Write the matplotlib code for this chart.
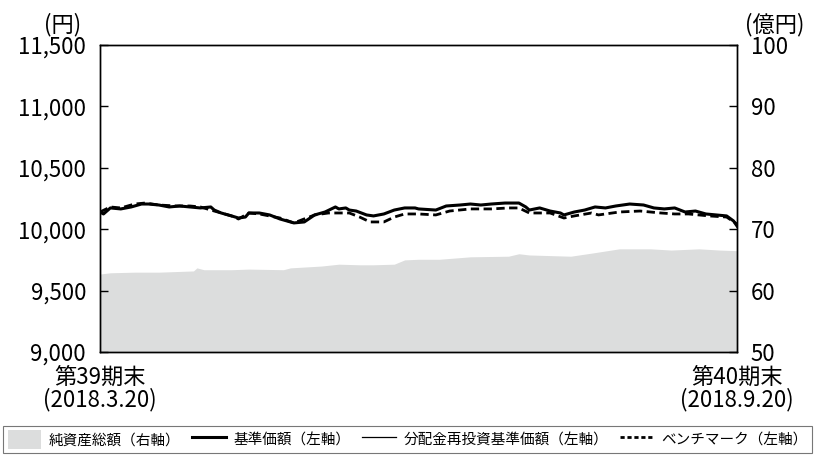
import matplotlib.pyplot as plt
from matplotlib.patches import Patch
from matplotlib.lines import Line2D

plt.rcParams['font.family'] = ['Noto Sans CJK JP', 'DejaVu Sans']

# days since 2018-03-20 (period end 2018-09-20 = day 184)
nav_days = [0, 1, 3, 6, 9, 12, 14, 17, 20, 23, 26, 29, 32, 33, 35, 38, 40, 42, 43, 46,
            49, 52, 55, 56, 59, 62, 65, 68, 69, 71, 72, 74, 77, 79, 82, 85, 88, 91, 92,
            97, 100, 104, 107, 110, 113, 117, 121, 123, 124, 127, 130, 133, 134, 137,
            140, 143, 146, 149, 153, 157, 160, 163, 166, 169, 172, 175, 178, 181, 183, 184]
nav = [10140, 10124, 10173, 10165, 10181, 10205, 10205, 10197, 10181, 10189, 10181,
       10173, 10181, 10156, 10132, 10108, 10091, 10099, 10132, 10132, 10116, 10083,
       10059, 10051, 10059, 10116, 10140, 10181, 10165, 10173, 10156, 10148, 10116,
       10108, 10124, 10156, 10173, 10173, 10165, 10156, 10189, 10197, 10205, 10197,
       10205, 10213, 10213, 10181, 10156, 10173, 10148, 10132, 10116, 10140, 10156,
       10181, 10173, 10189, 10205, 10197, 10173, 10165, 10173, 10140, 10148, 10124,
       10116, 10108, 10067, 10026]
# no distributions in the period: reinvested NAV equals NAV
reinvest = list(nav)

bm_days = [0, 3, 6, 10, 13, 17, 22, 26, 29, 33, 38, 40, 43, 46, 52, 56, 62, 66, 69, 72,
           75, 78, 82, 85, 88, 92, 97, 101, 107, 113, 118, 121, 124, 130, 134, 137, 142,
           144, 150, 156, 162, 166, 170, 176, 181, 184]
benchmark = [10140, 10181, 10173, 10205, 10213, 10197, 10189, 10189, 10181, 10148,
             10108, 10083, 10132, 10124, 10091, 10051, 10116, 10132, 10132, 10132,
             10099, 10059, 10059, 10099, 10124, 10124, 10116, 10148, 10165, 10165,
             10173, 10173, 10132, 10132, 10091, 10108, 10132, 10116, 10140, 10148,
             10132, 10124, 10124, 10108, 10099, 10042]

aum_days = [0, 3, 10, 17, 27, 28, 30, 38, 43, 53, 55, 64, 69, 75, 79, 85, 88, 92, 98,
            107, 118, 121, 124, 136, 142, 150, 159, 165, 173, 179, 184]
aum = [62.7, 62.9, 63.0, 63.0, 63.2, 63.7, 63.4, 63.4, 63.5, 63.4, 63.7, 64.0, 64.3,
       64.2, 64.2, 64.3, 65.0, 65.1, 65.1, 65.5, 65.6, 66.0, 65.8, 65.6, 66.1, 66.8,
       66.8, 66.6, 66.8, 66.6, 66.5]

x_ticks = [0, 184]
x_labels = ['第39期末\n(2018.3.20)', '第40期末\n(2018.9.20)']
left_ticks = [9000, 9500, 10000, 10500, 11000, 11500]
right_ticks = [50, 60, 70, 80, 90, 100]

fig = plt.figure(figsize=(8.15, 4.55), dpi=100)
ax = fig.add_axes([0.1227, 0.2264, 0.7816, 0.6747])
ax2 = ax.twinx()

ax2.fill_between(aum_days, aum, 50, color='#dcdddd', lw=0)
ax2.set_ylim(50, 100)
ax2.set_yticks(right_ticks)
ax2.set_yticklabels([str(v) for v in right_ticks])

ax.set_zorder(ax2.get_zorder() + 1)
ax.patch.set_visible(False)
ax.plot(nav_days, reinvest, color='black', lw=0.9)
ax.plot(nav_days, nav, color='black', lw=2.2)
ax.plot(bm_days, benchmark, color='black', lw=2.0, ls=(0, (3, 1.6)))
ax.set_ylim(9000, 11500)
ax.set_xlim(0, 184)
ax.set_yticks(left_ticks)
ax.set_yticklabels([f'{v:,}' for v in left_ticks])
ax.set_xticks(x_ticks)
ax.set_xticklabels(x_labels, linespacing=0.95)

for a in (ax, ax2):
    a.tick_params(axis='y', direction='in', length=6, width=1, labelsize=16, pad=10)
    for s in a.spines.values():
        s.set_linewidth(1)
ax.tick_params(axis='x', length=0, labelsize=16, pad=10)

fig.text(0.077, 0.945, '(円)', fontsize=16, ha='center', va='center')
fig.text(0.951, 0.945, '(億円)', fontsize=16, ha='center', va='center')

handles = [Patch(color='#dcdddd', lw=0),
           Line2D([], [], color='black', lw=2.2),
           Line2D([], [], color='black', lw=0.9),
           Line2D([], [], color='black', lw=2.0, ls=(0, (1.5, 1)))]
labels = ['純資産総額（右軸）', '基準価額（左軸）', '分配金再投資基準価額（左軸）', 'ベンチマーク（左軸）']
leg = fig.legend(handles, labels, loc='lower left', bbox_to_anchor=(0.004, 0.004, 0.992, 0.074),
                 mode='expand', ncol=4, fontsize=10.5, frameon=True, fancybox=False,
                 handlelength=2.3, handleheight=1.6, handletextpad=0.5, columnspacing=1.0,
                 borderpad=0.3, borderaxespad=0)
leg.get_frame().set_edgecolor('#555555')
leg.get_frame().set_linewidth(0.8)

fig.savefig('out.png', dpi=100)
